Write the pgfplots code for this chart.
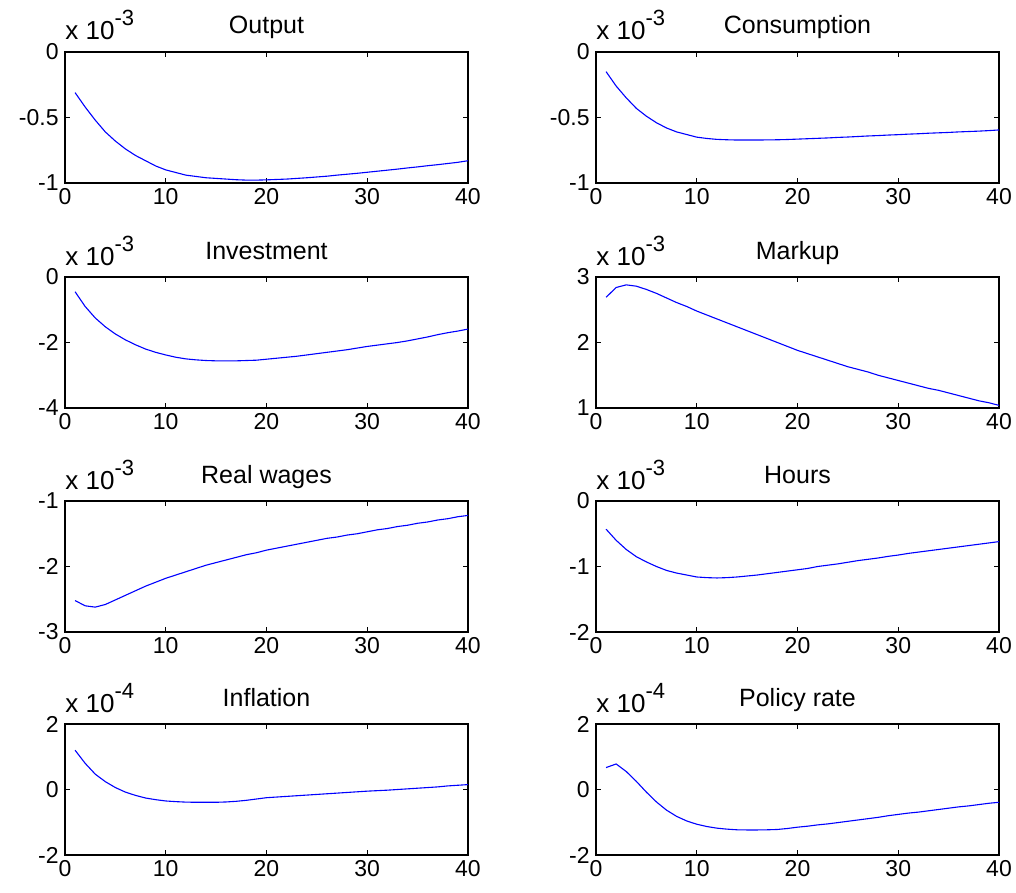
\documentclass[border=0pt]{standalone}
\usepackage{fontspec}
\setmainfont{Liberation Sans}
\usepackage{pgfplots}
\pgfplotsset{compat=1.18}
\definecolor{mblue}{RGB}{0,0,255}
\newcommand{\tfont}{\fontsize{11.5}{13}\selectfont}
\pgfplotsset{
  mat/.style={
    scale only axis, width=201.5pt, height=65.5pt, clip=false,
    xmin=0, xmax=40, xtick={0,10,20,30,40}, xticklabels={0,10,20,30,40},
    tick align=inside, major tick length=2.5pt,
    axis line style={line width=0.6pt},
    every tick/.append style={line width=0.5pt, black},
    tick label style={font=\tfont},
    xticklabel style={inner sep=2.5pt},
    yticklabel style={inner sep=3pt},
    title style={font=\fontsize{12.5}{14}\selectfont, anchor=base, yshift=3pt},
    every axis plot/.append style={mblue, line width=0.55pt, no markers},
  },
}
\newcommand{\expo}[1]{\node[anchor=base west, inner sep=0pt, font=\fontsize{13}{14}\selectfont, yshift=6pt] at (rel axis cs:0,1) {x 10\raisebox{7pt}{\fontsize{11}{12}\selectfont #1}};}
\begin{document}
\begin{tikzpicture}[x=1pt,y=1pt]
\useasboundingbox (0,0) rectangle (508,-446.5);

% Output
\begin{axis}[mat, at={(32.5pt,-26pt)}, anchor=north west, title={Output},
  ymin=-1, ymax=0, ytick={-1,-0.5,0}, yticklabels={-1,-0.5,0}]
\addplot coordinates {(1,-0.31)(2,-0.42)(3,-0.52)(4,-0.61)(5,-0.68)(6,-0.74)(7,-0.79)(8,-0.83)(9,-0.87)(10,-0.90)(11,-0.92)(12,-0.94)(13,-0.95)(14,-0.96)(15,-0.965)(16,-0.97)(17,-0.975)(18,-0.978)(19,-0.978)(20,-0.976)(21,-0.973)(22,-0.97)(23,-0.965)(24,-0.96)(25,-0.954)(26,-0.948)(27,-0.94)(28,-0.933)(29,-0.926)(30,-0.918)(31,-0.91)(32,-0.902)(33,-0.894)(34,-0.885)(35,-0.877)(36,-0.868)(37,-0.86)(38,-0.851)(39,-0.842)(40,-0.83)};
\expo{-3}
\end{axis}

% Consumption
\begin{axis}[mat, at={(298pt,-26pt)}, anchor=north west, title={Consumption},
  ymin=-1, ymax=0, ytick={-1,-0.5,0}, yticklabels={-1,-0.5,0}]
\addplot coordinates {(1,-0.15)(2,-0.26)(3,-0.35)(4,-0.43)(5,-0.49)(6,-0.54)(7,-0.58)(8,-0.61)(9,-0.63)(10,-0.65)(11,-0.66)(12,-0.667)(13,-0.67)(14,-0.672)(15,-0.672)(16,-0.672)(17,-0.671)(18,-0.67)(19,-0.668)(20,-0.665)(21,-0.662)(22,-0.659)(23,-0.656)(24,-0.652)(25,-0.649)(26,-0.645)(27,-0.641)(28,-0.638)(29,-0.634)(30,-0.631)(31,-0.627)(32,-0.624)(33,-0.62)(34,-0.617)(35,-0.614)(36,-0.61)(37,-0.607)(38,-0.604)(39,-0.6)(40,-0.595)};
\expo{-3}
\end{axis}

% Investment
\begin{axis}[mat, at={(32.5pt,-138.5pt)}, anchor=north west, title={Investment},
  ymin=-4, ymax=0, ytick={-4,-2,0}, yticklabels={-4,-2,0}]
\addplot coordinates {(1,-0.45)(2,-0.9)(3,-1.25)(4,-1.52)(5,-1.74)(6,-1.92)(7,-2.07)(8,-2.2)(9,-2.3)(10,-2.38)(11,-2.45)(12,-2.5)(13,-2.53)(14,-2.55)(15,-2.56)(16,-2.56)(17,-2.56)(18,-2.55)(19,-2.54)(20,-2.51)(21,-2.48)(22,-2.45)(23,-2.42)(24,-2.38)(25,-2.34)(26,-2.3)(27,-2.26)(28,-2.22)(29,-2.17)(30,-2.12)(31,-2.08)(32,-2.04)(33,-2.0)(34,-1.95)(35,-1.89)(36,-1.83)(37,-1.76)(38,-1.7)(39,-1.65)(40,-1.59)};
\expo{-3}
\end{axis}

% Markup
\begin{axis}[mat, at={(298pt,-138.5pt)}, anchor=north west, title={Markup},
  ymin=1, ymax=3, ytick={1,2,3}, yticklabels={1,2,3}]
\addplot coordinates {(1,2.69)(2,2.84)(3,2.88)(4,2.86)(5,2.81)(6,2.75)(7,2.68)(8,2.61)(9,2.55)(10,2.48)(11,2.42)(12,2.36)(13,2.3)(14,2.24)(15,2.18)(16,2.12)(17,2.06)(18,2.0)(19,1.94)(20,1.88)(21,1.83)(22,1.78)(23,1.73)(24,1.68)(25,1.63)(26,1.59)(27,1.55)(28,1.5)(29,1.46)(30,1.42)(31,1.38)(32,1.34)(33,1.3)(34,1.27)(35,1.23)(36,1.19)(37,1.15)(38,1.11)(39,1.08)(40,1.04)};
\expo{-3}
\end{axis}

% Real wages
\begin{axis}[mat, at={(32.5pt,-250.5pt)}, anchor=north west, title={Real wages},
  ymin=-3, ymax=-1, ytick={-3,-2,-1}, yticklabels={-3,-2,-1}]
\addplot coordinates {(1,-2.52)(2,-2.6)(3,-2.62)(4,-2.58)(5,-2.51)(6,-2.44)(7,-2.37)(8,-2.3)(9,-2.24)(10,-2.18)(11,-2.13)(12,-2.08)(13,-2.03)(14,-1.98)(15,-1.94)(16,-1.9)(17,-1.86)(18,-1.82)(19,-1.79)(20,-1.75)(21,-1.72)(22,-1.69)(23,-1.66)(24,-1.63)(25,-1.6)(26,-1.57)(27,-1.55)(28,-1.52)(29,-1.5)(30,-1.47)(31,-1.44)(32,-1.42)(33,-1.39)(34,-1.37)(35,-1.34)(36,-1.32)(37,-1.29)(38,-1.27)(39,-1.24)(40,-1.22)};
\expo{-3}
\end{axis}

% Hours
\begin{axis}[mat, at={(298pt,-250.5pt)}, anchor=north west, title={Hours},
  ymin=-2, ymax=0, ytick={-2,-1,0}, yticklabels={-2,-1,0}]
\addplot coordinates {(1,-0.43)(2,-0.6)(3,-0.74)(4,-0.85)(5,-0.93)(6,-1.0)(7,-1.06)(8,-1.1)(9,-1.13)(10,-1.16)(11,-1.17)(12,-1.175)(13,-1.17)(14,-1.16)(15,-1.145)(16,-1.13)(17,-1.11)(18,-1.09)(19,-1.07)(20,-1.05)(21,-1.03)(22,-1.0)(23,-0.98)(24,-0.96)(25,-0.935)(26,-0.91)(27,-0.89)(28,-0.87)(29,-0.845)(30,-0.825)(31,-0.8)(32,-0.78)(33,-0.76)(34,-0.74)(35,-0.72)(36,-0.7)(37,-0.68)(38,-0.66)(39,-0.64)(40,-0.62)};
\expo{-3}
\end{axis}

% Inflation
\begin{axis}[mat, at={(32.5pt,-362pt)}, anchor=north west, title={Inflation},
  ymin=-2, ymax=2, ytick={-2,0,2}, yticklabels={-2,0,2}]
\addplot coordinates {(1,1.2)(2,0.8)(3,0.47)(4,0.24)(5,0.06)(6,-0.08)(7,-0.18)(8,-0.26)(9,-0.31)(10,-0.35)(11,-0.37)(12,-0.385)(13,-0.39)(14,-0.39)(15,-0.39)(16,-0.38)(17,-0.36)(18,-0.33)(19,-0.29)(20,-0.25)(21,-0.23)(22,-0.21)(23,-0.19)(24,-0.17)(25,-0.15)(26,-0.13)(27,-0.11)(28,-0.09)(29,-0.07)(30,-0.05)(31,-0.035)(32,-0.02)(33,0.0)(34,0.02)(35,0.04)(36,0.06)(37,0.08)(38,0.11)(39,0.13)(40,0.15)};
\expo{-4}
\end{axis}

% Policy rate
\begin{axis}[mat, at={(298pt,-362pt)}, anchor=north west, title={Policy rate},
  ymin=-2, ymax=2, ytick={-2,0,2}, yticklabels={-2,0,2}]
\addplot coordinates {(1,0.67)(2,0.78)(3,0.55)(4,0.25)(5,-0.08)(6,-0.38)(7,-0.63)(8,-0.82)(9,-0.96)(10,-1.06)(11,-1.13)(12,-1.18)(13,-1.21)(14,-1.23)(15,-1.235)(16,-1.235)(17,-1.23)(18,-1.22)(19,-1.19)(20,-1.15)(21,-1.12)(22,-1.08)(23,-1.05)(24,-1.01)(25,-0.97)(26,-0.93)(27,-0.89)(28,-0.85)(29,-0.8)(30,-0.76)(31,-0.72)(32,-0.69)(33,-0.65)(34,-0.61)(35,-0.57)(36,-0.53)(37,-0.5)(38,-0.46)(39,-0.42)(40,-0.39)};
\expo{-4}
\end{axis}
\end{tikzpicture}
\end{document}
